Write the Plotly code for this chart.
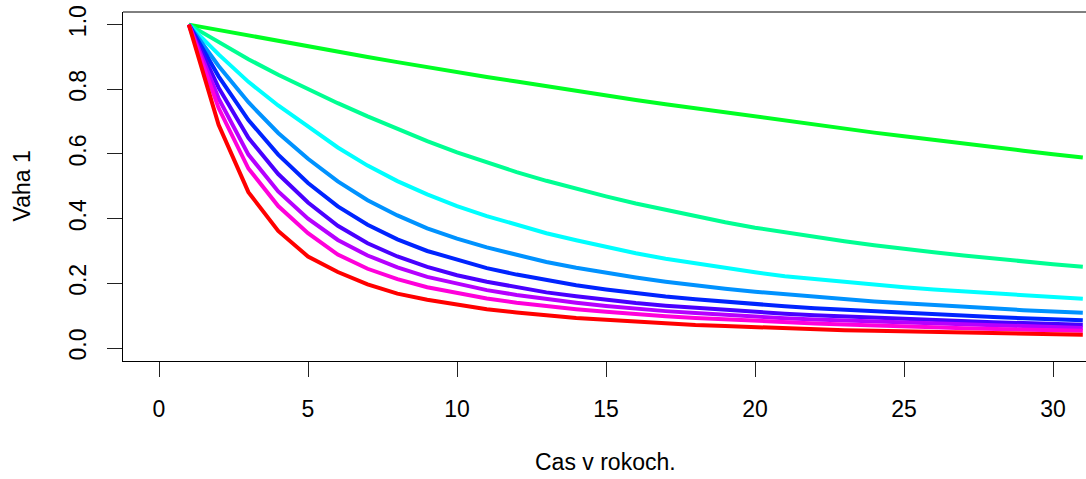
import plotly.graph_objects as go

years = list(range(1, 32))

w_green = [1.000, 0.983, 0.965, 0.948, 0.932, 0.916, 0.900, 0.884, 0.868, 0.853,
           0.838, 0.824, 0.809, 0.795, 0.781, 0.767, 0.754, 0.741, 0.728, 0.715,
           0.703, 0.690, 0.678, 0.666, 0.655, 0.643, 0.632, 0.621, 0.610, 0.599, 0.589]
w_spring = [1.000, 0.946, 0.893, 0.845, 0.800, 0.757, 0.716, 0.677, 0.640, 0.605,
            0.573, 0.544, 0.517, 0.492, 0.469, 0.447, 0.427, 0.408, 0.389, 0.372,
            0.357, 0.343, 0.330, 0.318, 0.306, 0.296, 0.286, 0.276, 0.267, 0.259, 0.251]
w_cyan = [1.000, 0.908, 0.823, 0.750, 0.685, 0.620, 0.564, 0.516, 0.475, 0.439,
          0.408, 0.381, 0.355, 0.333, 0.312, 0.293, 0.276, 0.261, 0.247, 0.234,
          0.222, 0.213, 0.204, 0.196, 0.188, 0.181, 0.175, 0.168, 0.162, 0.157, 0.152]
w_azure = [1.000, 0.872, 0.760, 0.665, 0.585, 0.515, 0.457, 0.410, 0.370, 0.338,
           0.311, 0.287, 0.266, 0.248, 0.232, 0.218, 0.205, 0.193, 0.183, 0.174,
           0.166, 0.158, 0.151, 0.144, 0.138, 0.132, 0.127, 0.122, 0.117, 0.113, 0.109]
w_blue = [1.000, 0.840, 0.705, 0.598, 0.510, 0.438, 0.381, 0.336, 0.300, 0.272,
          0.247, 0.227, 0.209, 0.194, 0.181, 0.169, 0.159, 0.151, 0.143, 0.135,
          0.129, 0.123, 0.118, 0.113, 0.108, 0.104, 0.100, 0.096, 0.092, 0.089, 0.086]
w_indigo = [1.000, 0.805, 0.650, 0.538, 0.450, 0.378, 0.324, 0.283, 0.251, 0.225,
            0.205, 0.187, 0.172, 0.160, 0.149, 0.139, 0.131, 0.124, 0.117, 0.111,
            0.106, 0.101, 0.097, 0.093, 0.089, 0.086, 0.083, 0.080, 0.077, 0.074, 0.072]
w_purple = [1.000, 0.772, 0.598, 0.484, 0.400, 0.334, 0.286, 0.249, 0.220, 0.198,
            0.179, 0.164, 0.151, 0.140, 0.130, 0.121, 0.114, 0.108, 0.102, 0.097,
            0.092, 0.088, 0.085, 0.081, 0.078, 0.075, 0.072, 0.069, 0.067, 0.064, 0.062]
w_magenta = [1.000, 0.742, 0.555, 0.439, 0.355, 0.289, 0.245, 0.213, 0.188, 0.169,
             0.153, 0.140, 0.129, 0.120, 0.112, 0.104, 0.098, 0.093, 0.088, 0.083,
             0.079, 0.076, 0.073, 0.069, 0.067, 0.064, 0.061, 0.059, 0.057, 0.055, 0.053]
w_red = [1.000, 0.690, 0.482, 0.362, 0.283, 0.235, 0.197, 0.168, 0.149, 0.134,
         0.120, 0.110, 0.101, 0.093, 0.087, 0.081, 0.076, 0.071, 0.068, 0.064,
         0.061, 0.058, 0.055, 0.053, 0.051, 0.049, 0.047, 0.045, 0.044, 0.042, 0.041]

series = [w_green, w_spring, w_cyan, w_azure, w_blue, w_indigo, w_purple, w_magenta, w_red]
colors = ["#00FF24", "#00FF92", "#00FFFF", "#0092FF", "#0024FF",
          "#4900FF", "#B600FF", "#FF00DB", "#FF0000"]

x_ticks = [0, 5, 10, 15, 20, 25, 30]
y_ticks = [0.0, 0.2, 0.4, 0.6, 0.8, 1.0]
y_tick_text = ["0.0", "0.2", "0.4", "0.6", "0.8", "1.0"]

FONT = "Liberation Sans, Arial, sans-serif"
FS = 23

fig = go.Figure()
for vals, col in zip(series, colors):
    fig.add_trace(go.Scatter(x=years, y=vals, mode="lines",
                             line=dict(color=col, width=4), showlegend=False,
                             hoverinfo="skip"))

fig.update_layout(
    width=1086, height=479,
    margin=dict(l=123, r=0, t=12, b=118),
    paper_bgcolor="white", plot_bgcolor="white",
    font=dict(family=FONT, size=FS, color="black"),
    showlegend=False,
    xaxis=dict(range=[-1.208, 31.107], tickvals=x_ticks, ticktext=[str(v) for v in x_ticks],
               showgrid=False, zeroline=False, showline=True, linecolor="black", linewidth=1,
               ticks="outside", ticklen=15, tickwidth=1, tickcolor="#222",
               ticklabelstandoff=12,
               tickfont=dict(family=FONT, size=FS, color="black")),
    yaxis=dict(range=[-0.0402, 1.039], tickvals=y_ticks, ticktext=y_tick_text,
               showgrid=False, zeroline=False, showline=True, linecolor="black", linewidth=1,
               ticks="outside", ticklen=15, tickwidth=1, tickcolor="#222", tickangle=-90,
               ticklabelstandoff=12,
               tickfont=dict(family=FONT, size=FS, color="black")),
    shapes=[dict(type="line", xref="paper", yref="paper", x0=0, x1=1, y0=1, y1=1,
                 line=dict(color="black", width=1))],
    annotations=[
        dict(text="Cas v rokoch.", xref="paper", yref="paper", x=(605 - 123) / (1086 - 123),
             y=-(462 - 361) / (361 - 12), xanchor="center", yanchor="middle",
             showarrow=False, font=dict(family=FONT, size=FS, color="black")),
        dict(text="Vaha 1", xref="paper", yref="paper", x=-(123 - 21) / (1086 - 123),
             y=0.5, xanchor="center", yanchor="middle", textangle=-90,
             showarrow=False, font=dict(family=FONT, size=FS, color="black")),
    ],
)

fig.write_html("out.html")
